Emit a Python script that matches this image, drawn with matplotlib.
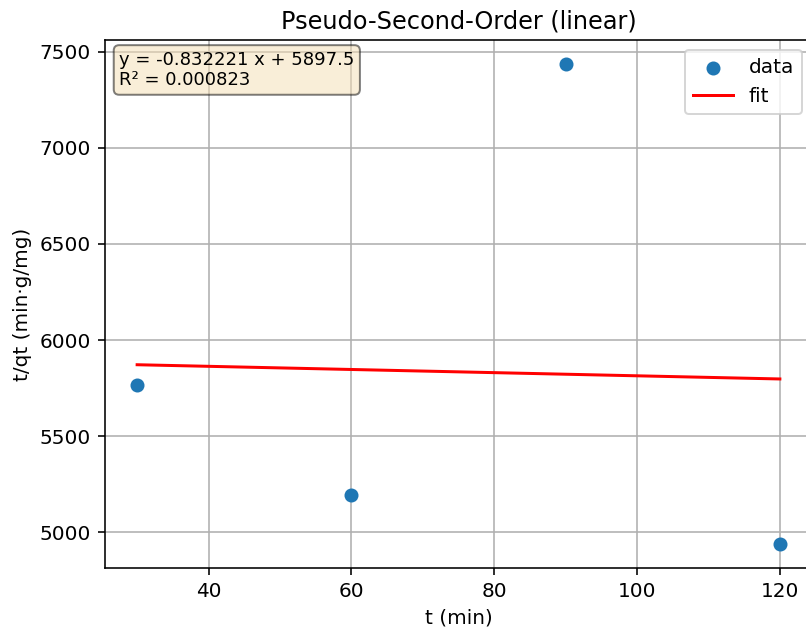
import numpy as np
import matplotlib
matplotlib.use("Agg")
import matplotlib.pyplot as plt

t = np.array([30, 60, 90, 120])
tq = np.array([5768, 5194, 7437, 4938])
eq_text = "y = -0.832221 x + 5897.5\nR² = 0.000823"

slope, intercept = np.polyfit(t, tq, 1)

DPI = 144
fig = plt.figure(figsize=(806 / DPI, 634 / DPI), dpi=DPI)
ax = fig.add_axes([105/806, 1 - 568/634, (812 - 105)/806, (568 - 40)/634])
ax.scatter(t, tq, label="data", color="#1f77b4", zorder=3)
ax.plot(t, slope * t + intercept, color="red", label="fit")
ax.set_title("Pseudo-Second-Order (linear)", fontsize=12)
ax.set_xlabel("t (min)")
ax.set_ylabel("t/qt (min·g/mg)")
ax.grid(True)
ax.legend(loc="upper right")
ax.text(0.02, 0.98, eq_text, transform=ax.transAxes, va="top", ha="left", fontsize=9,
        bbox=dict(boxstyle="round", facecolor="wheat", alpha=0.5))
ax.set_xticks([40, 60, 80, 100, 120])
fig.savefig("out.png", dpi=DPI)
